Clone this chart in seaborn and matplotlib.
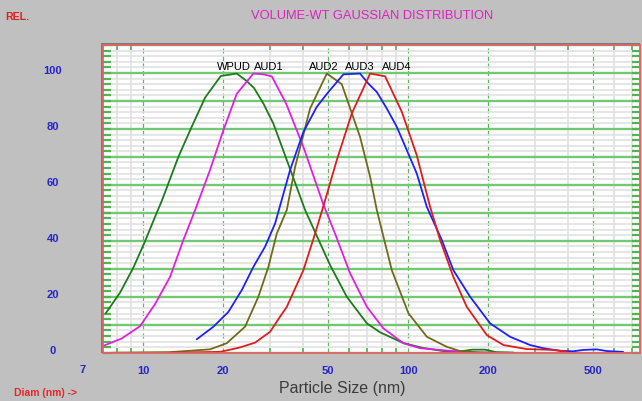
import matplotlib
matplotlib.use("Agg")
import matplotlib.pyplot as plt
import matplotlib.ticker as mticker
import matplotlib.transforms as mtrans
from matplotlib.patches import Rectangle
import numpy as np
import pandas as pd
import seaborn as sns

# ---------------- data ----------------
series_names = ["WPUD", "AUD1", "AUD2", "AUD3", "AUD4"]

wpud_size = [7.23, 8.19, 9.19, 10.18, 11.10, 11.79, 13.59, 15.05, 17.14, 19.64, 22.58,
             24.62, 26.23, 28.44, 31.02, 32.89, 40.87, 50.78, 58.7, 69.9, 78.4, 95.7,
             113.9, 140, 160, 175, 195, 215, 250]
wpud_rel = [14.1, 21.5, 30.4, 39.9, 48.6, 54.5, 70.0, 79.5, 91.2, 98.9, 99.8,
            97.1, 94.6, 89.1, 81.9, 75.4, 51.0, 31.3, 20.0, 10.5, 7.3, 3.5,
            1.7, 0.4, 0.6, 1.1, 1.1, 0.2, 0.0]

aud1_size = [7.1, 8.31, 9.74, 11.10, 12.64, 14.19, 15.72, 17.89, 20.09, 22.58, 26.08,
             28.44, 30.59, 34.64, 40.26, 47.9, 53.0, 60.4, 69.9, 80.7, 96.0, 111.0,
             132.1, 160, 200]
aud1_rel = [2.5, 5.1, 9.5, 17.4, 27.1, 40.3, 51.0, 65.3, 79.5, 92.6, 99.8,
            99.5, 98.8, 89.1, 73.6, 53.0, 42.6, 28.4, 16.4, 8.7, 3.4, 1.6,
            1.0, 0.3, 0.0]

aud2_size = [7.6, 12.64, 17.89, 20.69, 24.26, 27.23, 29.71, 31.95, 34.86, 37.47, 42.68,
             49.35, 56.2, 65.9, 71.9, 76.2, 86.8, 100.3, 117.7, 140, 157, 185, 250]
aud2_rel = [0.0, 0.2, 1.2, 3.4, 9.3, 20.0, 30.7, 42.6, 51.0, 66.4, 87.3,
            99.8, 96.0, 77.1, 62.9, 51.0, 29.5, 14.1, 5.7, 2.1, 0.6, 0.1, 0.0]

aud3_size = [15.94, 18.42, 20.99, 23.58, 26.08, 28.86, 31.49, 35.87, 40.26, 45.23, 50.03,
             57.0, 65.9, 70.8, 76.2, 83.1, 90.7, 98.9, 107.8, 117.7, 134.0, 148.2,
             171.4, 203.9, 242.6, 288.6, 324, 374.6, 420, 457.5, 515, 562, 647.6]
aud3_rel = [4.8, 9.3, 14.6, 22.4, 30.7, 37.9, 46.2, 65.3, 78.9, 87.9, 93.2,
            99.5, 99.8, 96.2, 93.2, 87.3, 80.7, 72.4, 64.1, 52.1, 40.3, 29.5,
            20.0, 10.5, 5.7, 2.75, 1.6, 0.7, 0.5, 1.0, 1.2, 0.6, 0.3]

aud4_size = [12.64, 19.53, 23.23, 26.46, 30.15, 32.89, 34.86, 40.26, 44.58, 48.63, 53.8,
             61.3, 71.9, 81.9, 94.7, 107.8, 121.1, 132.1, 148.2, 166.5, 198.2, 228.9,
             280.4, 352.5, 397.1]
aud4_rel = [0.0, 0.3, 1.9, 3.6, 7.5, 12.9, 16.4, 29.5, 42.6, 54.5, 68.8,
            85.5, 99.8, 98.8, 86.1, 70.6, 52.1, 40.3, 27.1, 16.4, 6.3, 2.75,
            1.3, 1.0, 0.4]

x_ticks = [10, 20, 50, 100, 200, 500]
x_tick_labels = ["10", "20", "50", "100", "200", "500"]
y_ticks = [0, 20, 40, 60, 80, 100]
y_tick_labels = ["0", "20", "40", "60", "80", "100"]

# label positions for the curve names (annotation positions)
name_label_x = [21.95, 29.9, 48.0, 65.9, 90.9]
name_label_y = 102.0

colors = {"WPUD": "#1c7c1c", "AUD1": "#e020e0", "AUD2": "#6e6c1c",
          "AUD3": "#2020ff", "AUD4": "#e01c1c"}

sizes = [wpud_size, aud1_size, aud2_size, aud3_size, aud4_size]
rels = [wpud_rel, aud1_rel, aud2_rel, aud3_rel, aud4_rel]
df = pd.concat([pd.DataFrame({"size": s, "rel": r, "series": n})
                for n, s, r in zip(series_names, sizes, rels)], ignore_index=True)

# ---------------- figure ----------------
sns.set_theme(style="white")
plt.rcParams["font.family"] = ["Liberation Sans", "DejaVu Sans"]

W, H = 642, 401
fig = plt.figure(figsize=(W / 100, H / 100), dpi=100, facecolor="#c0c0c0")
ax_l, ax_r, ax_t, ax_b = 103, 640, 45, 353
ax = fig.add_axes([ax_l / W, 1 - ax_b / H, (ax_r - ax_l) / W, (ax_b - ax_t) / H])
ax.set_facecolor("white")
ax.set_zorder(3)

# dark shadow above/left of the plot frame
fig.patches.append(Rectangle(((ax_l - 2) / W, 1 - ax_b / H), (ax_r - ax_l + 2) / W,
                             (ax_b - ax_t + 2) / H, transform=fig.transFigure,
                             facecolor="#7a7a7a", edgecolor="none", zorder=0))

sns.lineplot(data=df, x="size", y="rel", hue="series", palette=colors,
             hue_order=series_names, estimator=None, sort=False, legend=False,
             linewidth=1.3, ax=ax, zorder=5)

ax.set_xscale("log")
ax.set_xlim(7.06, 750)
ax.set_ylim(-0.1, 110)
ax.set_xlabel("")
ax.set_ylabel("")

# y axis: major grid every 10, labels every 20, minor every 2
ax.yaxis.set_major_locator(mticker.MultipleLocator(10))
ax.yaxis.set_major_formatter(mticker.FuncFormatter(
    lambda v, p: y_tick_labels[y_ticks.index(int(round(v)))] if int(round(v)) in y_ticks else ""))
ax.yaxis.set_minor_locator(mticker.MultipleLocator(2))

# x axis
ax.xaxis.set_major_locator(mticker.FixedLocator(x_ticks))
ax.xaxis.set_major_formatter(mticker.FixedFormatter(x_tick_labels))
minor_x = [m * 10 ** e for e in range(0, 3) for m in range(2, 10)]
minor_x = [v for v in minor_x if v not in x_ticks and 7.06 < v < 750]
ax.xaxis.set_minor_locator(mticker.FixedLocator(minor_x))
ax.xaxis.set_minor_formatter(mticker.NullFormatter())

ax.set_axisbelow(True)
ax.grid(axis="y", which="minor", color="#e2e2e2", linewidth=1.2, zorder=0)
ax.grid(axis="y", which="major", color="#74c874", linewidth=1.7, zorder=1)
ax.grid(axis="x", which="minor", color="#e0e0e0", linewidth=1.2, zorder=0)
ax.grid(axis="x", which="major", color="#5cb85c", linewidth=0.9,
        linestyle=(0, (4, 2)), zorder=1)

green = "#50b450"
ax.tick_params(axis="y", which="both", direction="in", left=True, right=True,
               color=green, length=5.8, width=1.6, labelsize=8, labelcolor="#2525c8",
               pad=36)
ax.tick_params(axis="x", which="major", direction="in", bottom=True, top=False,
               length=0, labelsize=8, labelcolor="#2525c8", pad=9.4)
ax.tick_params(axis="x", which="minor", direction="in", bottom=True, top=True,
               color=green, length=3.6, width=1.2)

up = mtrans.ScaledTranslation(0, 3 / 100, fig.dpi_scale_trans)
for lbl in ax.get_yticklabels():
    lbl.set_fontweight("bold")
    lbl.set_horizontalalignment("center")
    lbl.set_transform(lbl.get_transform() + up)
for lbl in ax.get_xticklabels():
    lbl.set_fontweight("bold")

for sp in ax.spines.values():
    sp.set_color("#e06464")
    sp.set_linewidth(1.3)
    sp.set_zorder(6)

# curve name labels
for name, lx in zip(series_names, name_label_x):
    ax.text(lx, name_label_y, name, ha="center", va="center", fontsize=8,
            color="black", zorder=7)

# figure texts
fig.text(83 / W, 1 - 370 / H, "7", ha="center", va="center", fontsize=8,
         fontweight="bold", color="#2525c8")
fig.text(372 / W, 1 - 16 / H, "VOLUME-WT GAUSSIAN DISTRIBUTION", ha="center",
         va="center", fontsize=9.3, color="#e020c0")
fig.text(5 / W, 1 - 17 / H, "REL.", ha="left", va="center", fontsize=7.6,
         fontweight="bold", color="#e02020")
fig.text(14 / W, 1 - 393 / H, "Diam (nm) ->", ha="left", va="center", fontsize=7.5,
         fontweight="bold", color="#e02a2a")
fig.text(342 / W, 1 - 389 / H, "Particle Size (nm)", ha="center", va="center",
         fontsize=11.5, color="#3c3c3c")

fig.savefig("out.png", dpi=100, facecolor=fig.get_facecolor())
